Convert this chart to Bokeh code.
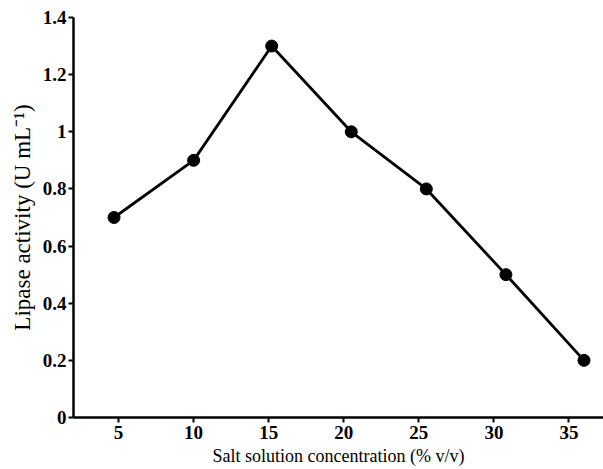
from bokeh.plotting import figure
from bokeh.models import FixedTicker, Range1d
from bokeh.embed import file_html
from bokeh.resources import INLINE

# Data
salt_conc = [4.7, 10.0, 15.2, 20.5, 25.5, 30.8, 36.0]
lipase_activity = [0.70, 0.90, 1.30, 1.00, 0.80, 0.50, 0.20]

x_ticks = [5, 10, 15, 20, 25, 30, 35]
y_ticks = [0, 0.2, 0.4, 0.6, 0.8, 1.0, 1.2, 1.4]
y_tick_labels = ["0", "0.2", "0.4", "0.6", "0.8", "1", "1.2", "1.4"]

FONT = "Liberation Serif"

p = figure(width=603, height=469, output_backend="svg", toolbar_location=None,
           x_range=Range1d(2.0, 37.3), y_range=Range1d(0, 1.4),
           min_border_left=73, min_border_right=0, min_border_top=17, min_border_bottom=52)

p.line(salt_conc, lipase_activity, line_color="black", line_width=2.8)
p.scatter(salt_conc, lipase_activity, size=12, marker="circle",
          fill_color="black", line_color="black")

p.outline_line_color = None
p.grid.visible = False
p.background_fill_color = "white"
p.border_fill_color = "white"

for ax in (p.xaxis[0], p.yaxis[0]):
    ax.axis_line_width = 2.5
    ax.axis_line_color = "black"
    ax.major_tick_line_width = 2
    ax.major_tick_line_color = "black"
    ax.major_tick_out = 5
    ax.major_tick_in = 0
    ax.minor_tick_line_color = None
    ax.major_label_text_font = FONT
    ax.major_label_text_font_style = "bold"
    ax.major_label_text_font_size = "19px"
    ax.major_label_text_color = "black"
    ax.axis_label_text_font = FONT
    ax.axis_label_text_font_style = "normal"
    ax.axis_label_text_color = "black"

p.xaxis.axis_label_text_font_size = "18px"
p.yaxis.axis_label_text_font_size = "23px"
p.xaxis.ticker = FixedTicker(ticks=x_ticks)
p.yaxis.ticker = FixedTicker(ticks=y_ticks)
p.yaxis.major_label_overrides = {t: l for t, l in zip(y_ticks, y_tick_labels)}
p.xaxis.major_label_standoff = 3
p.yaxis.major_label_standoff = 2
p.xaxis.axis_label = "Salt solution concentration (% v/v)"
p.yaxis.axis_label = "Lipase activity (U mL⁻¹)"
p.xaxis.axis_label_standoff = 4
p.yaxis.axis_label_standoff = 5

open("out.html", "w").write(file_html(p, INLINE))
